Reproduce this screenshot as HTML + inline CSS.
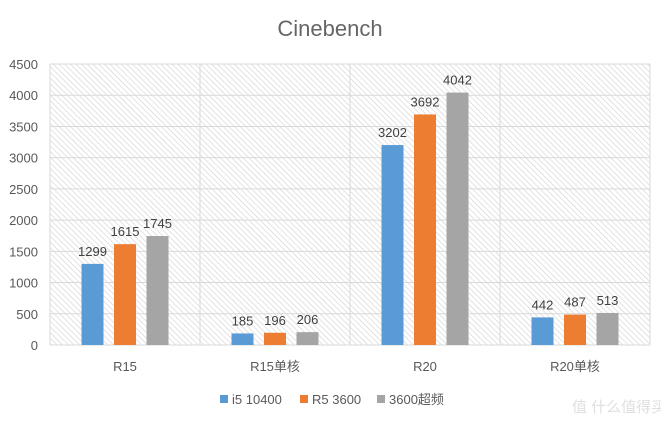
<!DOCTYPE html>
<html><head><meta charset="utf-8"><style>
body{margin:0;background:#fff;}
svg text{font-family:"Liberation Sans","Noto Sans CJK SC",sans-serif;}
</style></head><body>
<svg id="chart" width="661" height="422" xmlns="http://www.w3.org/2000/svg">
<defs>
<pattern id="hatch" patternUnits="userSpaceOnUse" width="4" height="4" patternTransform="rotate(-45)">
<rect width="4" height="4" fill="#fff"/><line x1="0" y1="0" x2="0" y2="4" stroke="#d4d4d4" stroke-width="1.3"/>
</pattern>
</defs>
<text x="330" y="36" text-anchor="middle" font-size="22" fill="#666">Cinebench</text>
<rect x="50" y="64" width="600" height="281" fill="url(#hatch)"/>
<g id="grid"></g><g id="bars"></g><g id="labels"></g>
<g font-size="13" fill="#595959">
<rect x="220" y="395" width="8" height="8" fill="#5b9bd5"/>
<text x="232" y="404">i5 10400</text>
<rect x="300" y="395" width="8" height="8" fill="#ed7d31"/>
<text x="312" y="404">R5 3600</text>
<rect x="377" y="395" width="8" height="8" fill="#a5a5a5"/>
<text x="389" y="404">3600超频</text>
</g>
<text x="572" y="412" font-size="15" fill="#e0e0e0">值 什么值得买</text>
</svg>
<script>
const categories=["R15","R15单核","R20","R20单核"];
const seriesI5=[1299,185,3202,442];
const seriesR5=[1615,196,3692,487];
const seriesOC=[1745,206,4042,513];
const yTicks=[0,500,1000,1500,2000,2500,3000,3500,4000,4500];
const NS="http://www.w3.org/2000/svg";
const L=50,R=650,T=64,B=345,maxV=4500;
const y=v=>B-(v/maxV)*(B-T);
const cw=(R-L)/categories.length;
const cx=i=>L+cw*(i+0.5);
function mk(tag,attrs,parent,txt){const e=document.createElementNS(NS,tag);for(const k in attrs)e.setAttribute(k,attrs[k]);if(txt!==undefined)e.textContent=txt;parent.appendChild(e);return e;}
const grid=document.getElementById('grid'),bars=document.getElementById('bars'),labels=document.getElementById('labels');
yTicks.forEach(t=>{
 const ln=mk('line',{x1:L,x2:R,y1:y(t),y2:y(t),stroke:'#d9d9d9','stroke-width':1},grid);
 
 
 const tx=mk('text',{x:38,y:y(t)+5,'text-anchor':'end','font-size':13,fill:'#595959'},labels,String(t));
 
 
});
for(let i=0;i<=categories.length;i++){
 const ln=mk('line',{x1:L+cw*i,x2:L+cw*i,y1:T,y2:B,stroke:'#d9d9d9','stroke-width':1},grid);
 
 
}
const series=[[seriesI5,'#5b9bd5','i5'],[seriesR5,'#ed7d31','r5'],[seriesOC,'#a5a5a5','oc']];
const bw=22,off=32.5;
categories.forEach((c,i)=>{
 series.forEach((s,j)=>{
  const v=s[0][i],x=cx(i)+(j-1)*off-bw/2;
  const r=mk('rect',{x:x,y:y(v),width:bw,height:B-y(v),fill:s[1]},bars);
  
  
  const t=mk('text',{x:x+bw/2,y:y(v)-8,'text-anchor':'middle','font-size':13,fill:'#404040'},labels,String(v));
  
  
 });
 const ct=mk('text',{x:cx(i),y:371,'text-anchor':'middle','font-size':13,fill:'#595959'},labels,c);
 
 
});
</script>
</body></html>
